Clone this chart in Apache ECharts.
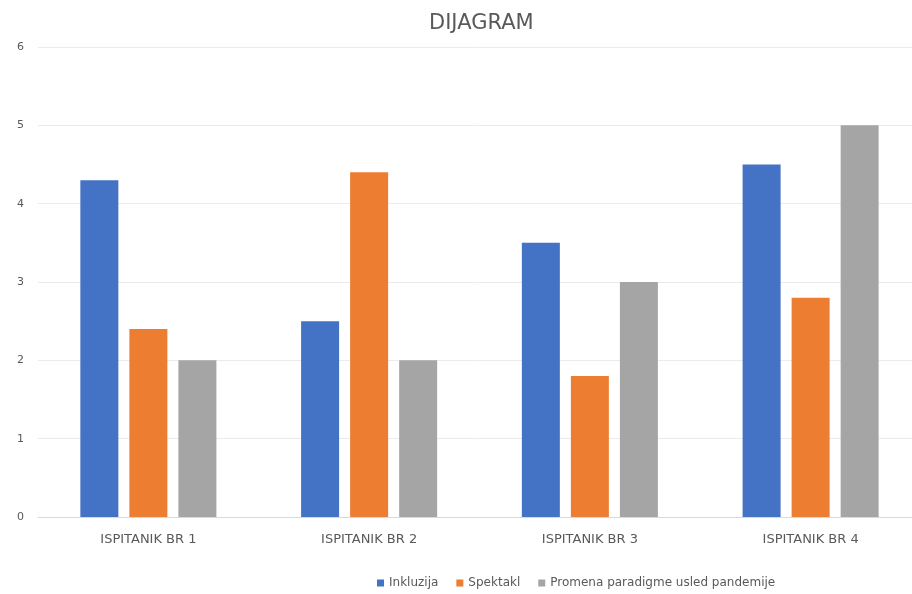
<!DOCTYPE html>
<html><head><meta charset="utf-8">
<script src="https://cdn.jsdelivr.net/npm/echarts@6/dist/echarts.min.js"></script>
<style>html,body{margin:0;padding:0;background:#fff}#c{width:912px;height:594px}</style>
</head><body><div id="c"></div>
<script>
const categories = ['ISPITANIK BR 1','ISPITANIK BR 2','ISPITANIK BR 3','ISPITANIK BR 4'];
const seriesNames = ['Inkluzija','Spektakl','Promena paradigme usled pandemije'];
const inkluzija = [4.3, 2.5, 3.5, 4.5];
const spektakl = [2.4, 4.4, 1.8, 2.8];
const promena = [2, 2, 3, 5];
const colors = ['#4472C4','#ED7D31','#A5A5A5'];
const chart = echarts.init(document.getElementById('c'));
const font = '"DejaVu Sans", sans-serif';
chart.setOption({
  animation:false,
  title:{text:'DIJAGRAM',left:424,top:8,textStyle:{color:'#595959',fontSize:21,fontWeight:'normal',fontFamily:font}},
  legend:{bottom:0,left:372,itemWidth:7,itemHeight:7,itemGap:18,icon:'rect',textStyle:{color:'#595959',fontSize:12,fontFamily:font},data:seriesNames},
  grid:{left:38,width:883,top:47,bottom:77,outerBoundsMode:'none',containLabel:false},
  xAxis:{type:'category',data:categories,axisTick:{show:false},axisLine:{lineStyle:{color:'#d9d9d9'}},axisLabel:{color:'#595959',fontSize:13,margin:16,fontFamily:font}},
  yAxis:{type:'value',min:0,max:6,interval:1,axisLabel:{color:'#595959',fontSize:11,margin:14,fontFamily:font},splitLine:{lineStyle:{color:'#ebebeb'}},axisLine:{show:false},axisTick:{show:false}},
  series:[
    {name:seriesNames[0],type:'bar',data:inkluzija,itemStyle:{color:colors[0]},barWidth:38,barGap:'29%'},
    {name:seriesNames[1],type:'bar',data:spektakl,itemStyle:{color:colors[1]},barWidth:38,barGap:'29%'},
    {name:seriesNames[2],type:'bar',data:promena,itemStyle:{color:colors[2]},barWidth:38,barGap:'29%'}
  ]
});
</script></body></html>
